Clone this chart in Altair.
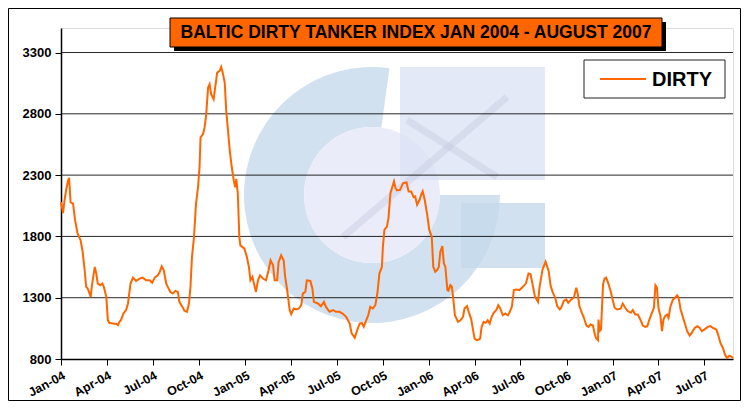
import altair as alt
import pandas as pd

# ---------------- data ----------------
# observation day, counted from 1 Jan 2004
day_offset = [
    0, 4, 7, 10, 14, 16, 19, 24, 28, 33, 39, 43, 47, 50, 53, 59, 61, 67, 70, 73, 78, 82, 85, 90,
    93, 96, 103, 110, 113, 116, 119, 124, 129, 133, 138, 143, 149, 156, 162, 169, 176, 181, 186,
    192, 196, 200, 204, 209, 212, 217, 222, 227, 232, 235, 241, 245, 250, 254, 257, 260, 264, 268,
    272, 275, 277, 282, 285, 288, 292, 295, 298, 303,
    310, 315, 318, 321, 325, 328, 331, 335, 339, 343, 346, 348, 351, 354, 356, 364, 369, 373, 376,
    380, 383, 387, 391, 395, 401, 407, 412, 416, 421, 424, 429, 432, 437, 442, 445, 449, 454, 457,
    462, 467, 472, 477, 480, 485, 488, 495, 499, 502, 510, 516, 522, 526, 533, 540, 546, 553, 559,
    566, 573, 577, 583, 588, 593, 597, 601, 606, 610, 614, 619, 624, 628, 632, 637,
    639, 642, 647, 650, 654, 657, 661, 664, 667, 673, 679, 686, 690, 695, 700, 703, 707, 712, 715,
    718, 722, 727, 731, 736, 739, 743, 747, 750, 753, 757, 760, 763, 767, 769, 773, 776, 779, 782,
    788, 793, 798, 801, 806, 810, 814, 818, 821, 826, 832, 835, 839, 843, 847, 851, 855, 859, 864,
    868, 872, 877, 882, 887, 890, 895, 899, 904, 910, 917, 923, 928, 932, 937, 941, 947, 950, 956, 962,
    968, 972, 976, 981, 985, 990, 993, 998, 1003, 1007, 1013, 1018, 1023, 1026, 1029, 1034, 1038,
    1043, 1047, 1051, 1056, 1059, 1062, 1066, 1067, 1069, 1072, 1076, 1079, 1082, 1086, 1091, 1095,
    1099, 1104, 1111, 1115, 1120, 1125, 1131, 1135, 1140, 1145, 1150, 1155, 1160, 1164, 1168, 1173,
    1177, 1180, 1183, 1186, 1190, 1193, 1196, 1199, 1203, 1206, 1210, 1215, 1219, 1223, 1226, 1230,
    1234, 1238, 1243, 1248, 1252, 1258, 1263, 1268, 1272, 1277, 1284, 1289, 1294, 1301, 1305, 1309,
    1314, 1318, 1322, 1327, 1330, 1334,
]
dirty_index = [
    2080, 1990, 2093, 2174, 2255, 2277, 2079, 2066, 1930, 1822, 1767, 1673, 1524, 1388, 1375, 1307,
    1388, 1551, 1497, 1415, 1402, 1415, 1388, 1307, 1117, 1095, 1090, 1085, 1076, 1104, 1117, 1171,
    1198, 1253, 1415, 1464, 1437, 1456, 1464, 1442, 1442, 1421, 1464, 1483, 1510, 1556, 1524, 1415,
    1388, 1347, 1334, 1356, 1347, 1266, 1225, 1193, 1185, 1253, 1388, 1632, 1795, 2066, 2201, 2364,
    2608, 2635, 2689, 2784, 3014, 3041, 2960, 2919,
    3136, 3150, 3182, 3136, 3055, 2824, 2689, 2499, 2364, 2255, 2201, 2269, 2147, 1795, 1727, 1700,
    1632, 1551, 1442, 1469, 1415, 1347, 1442, 1483, 1456, 1442, 1524, 1605, 1564, 1442, 1442, 1591,
    1646, 1605, 1469, 1361, 1198, 1166, 1212, 1204, 1212, 1239, 1334, 1347, 1442, 1437, 1375, 1266,
    1253, 1231, 1266, 1225, 1185, 1198, 1185, 1185, 1171, 1144, 1090, 1009, 973, 1036, 1090, 1095,
    1063, 1117, 1158, 1225, 1212, 1239, 1334, 1497, 1551,
    1717, 1853, 1880, 1949, 2153, 2194, 2249, 2194, 2175, 2180, 2235, 2240, 2167, 2167, 2120, 2126,
    2058, 2099, 2140, 2167, 2099, 1976, 1853, 1798, 1553, 1512, 1526, 1553, 1676, 1722, 1580, 1553,
    1362, 1357, 1403, 1389, 1280, 1157, 1103, 1116, 1144, 1212, 1231, 1176, 1130, 1035, 966, 953,
    966, 1062, 1103, 1095, 1116, 1089, 1144, 1176, 1198, 1239, 1212, 1157, 1171, 1157, 1176, 1226,
    1362, 1367, 1362, 1389, 1417, 1498, 1493, 1389, 1307, 1266, 1389, 1531, 1594,
    1518, 1396, 1346, 1300, 1232, 1204, 1218, 1273, 1286, 1259, 1286, 1300, 1382, 1327, 1232, 1177,
    1136, 1073, 1062, 1081, 1073, 1013, 972, 953, 1122, 1027, 1040, 1409, 1456, 1464, 1423, 1355,
    1286, 1218, 1204, 1210, 1253, 1218, 1191, 1177, 1199, 1163, 1163, 1122, 1073, 1062, 1068, 1122,
    1177, 1218, 1401, 1382, 1218, 1150, 1027, 1122, 1150, 1163, 1136, 1232, 1286, 1300, 1319, 1300,
    1204, 1150, 1095, 1027, 991, 1013, 1054, 1068, 1054, 1027, 1040, 1062, 1068, 1054, 1040, 991,
    931, 890, 836, 808, 827, 822, 808,
]
series_name = "DIRTY"
title_text = "BALTIC DIRTY TANKER INDEX JAN 2004 - AUGUST 2007"
quarter_ticks = [(2004, 1), (2004, 4), (2004, 7), (2004, 10), (2005, 1), (2005, 4), (2005, 7),
                 (2005, 10), (2006, 1), (2006, 4), (2006, 7), (2006, 10), (2007, 1), (2007, 4),
                 (2007, 7)]
y_ticks = [800, 1300, 1800, 2300, 2800, 3300]
y_domain = [800, 3500]
x_domain = [(2004, 1, 1), (2007, 8, 27)]

# ---------------- build ----------------
start = pd.Timestamp("2004-01-01")
df = pd.DataFrame({
    "date": start + pd.to_timedelta(day_offset, unit="D"),
    "value": dirty_index,
    "series": series_name,
})
grid_df = pd.DataFrame({"tick": y_ticks[1:]})
one = pd.DataFrame({"k": [0]})

FONT = "Liberation Sans"
W, H = 672, 331
ORANGE = "#FF6600"

x_scale = alt.Scale(domain=[alt.DateTime(year=y, month=m, date=d) for (y, m, d) in x_domain])
x_axis = alt.Axis(
    values=[alt.DateTime(year=y, month=m, date=1) for (y, m) in quarter_ticks],
    format="%b-%y", labelAngle=-28, labelAlign="right", labelBaseline="top",
    labelFont=FONT, labelFontWeight="bold", labelFontSize=12.5, labelColor="black",
    labelPadding=4, labelOverlap=False, labelFlush=False, labelBound=False,
    tickColor="black", tickSize=6, domainColor="black", domainWidth=1.5,
    grid=False, title=None,
)
y_scale = alt.Scale(domain=y_domain, nice=False, zero=False)
y_axis = alt.Axis(
    values=y_ticks, format="d", labelFont=FONT, labelFontWeight="bold", labelFontSize=13,
    labelColor="black", labelPadding=4, tickColor="black", tickSize=6,
    domainColor="black", domainWidth=1.5, grid=False, title=None,
)

base_one = alt.Chart(one)

# watermark logo (faint)
cx, cy = 311, 167
RING = "#C6DAEC"
ring = base_one.mark_arc(color=RING, opacity=0.8).encode(
    x=alt.value(cx), y=alt.value(cy), theta=alt.value(1.57), theta2=alt.value(6.42),
    radius=alt.value(128), radius2=alt.value(68))
inner = base_one.mark_arc(color="#EAECFA").encode(
    x=alt.value(cx), y=alt.value(cy), theta=alt.value(0), theta2=alt.value(6.2832),
    radius=alt.value(68))
block_tr = base_one.mark_rect(color="#DCE4F5", opacity=0.8).encode(
    x=alt.value(339), x2=alt.value(484), y=alt.value(39), y2=alt.value(152))
block_br = base_one.mark_rect(color=RING, opacity=0.8).encode(
    x=alt.value(400), x2=alt.value(484), y=alt.value(175), y2=alt.value(240))
diag1 = base_one.mark_rule(color="#C3C8DC", strokeWidth=7, opacity=0.4).encode(
    x=alt.value(446), y=alt.value(69), x2=alt.value(282), y2=alt.value(209))
diag2 = base_one.mark_rule(color="#C3C8DC", strokeWidth=7, opacity=0.4).encode(
    x=alt.value(346), y=alt.value(92), x2=alt.value(436), y2=alt.value(149))

grid = alt.Chart(grid_df).mark_rule(color="black", strokeWidth=1, opacity=0.85).encode(
    y=alt.Y("tick:Q", scale=y_scale, axis=y_axis))

line = alt.Chart(df).mark_line(color=ORANGE, strokeWidth=2).encode(
    x=alt.X("date:T", scale=x_scale, axis=x_axis),
    y=alt.Y("value:Q", scale=y_scale, axis=y_axis),
)

# title box
shadow = base_one.mark_rect(color="black").encode(
    x=alt.value(113), x2=alt.value(605), y=alt.value(-6), y2=alt.value(23))
tbox = base_one.mark_rect(color=ORANGE, stroke="black", strokeWidth=1).encode(
    x=alt.value(109), x2=alt.value(601), y=alt.value(-10), y2=alt.value(19))
ttext = base_one.mark_text(text=title_text, font=FONT, fontWeight="bold", fontSize=17.5,
                           color="black", align="center", baseline="middle").encode(
    x=alt.value(355), y=alt.value(5))

# legend box
lbox = base_one.mark_rect(fill="white", stroke="#222222", strokeWidth=1).encode(
    x=alt.value(523), x2=alt.value(664), y=alt.value(32), y2=alt.value(70))
lline = base_one.mark_rule(color=ORANGE, strokeWidth=2).encode(
    x=alt.value(539), x2=alt.value(585), y=alt.value(51))
ltext = base_one.mark_text(text=series_name, font=FONT, fontWeight="bold", fontSize=20,
                           color="black", align="left", baseline="middle").encode(
    x=alt.value(591), y=alt.value(52))

# outer frame
frame = base_one.mark_rect(filled=False, stroke="black", strokeWidth=1).encode(
    x=alt.value(-52.5), x2=alt.value(679.5), y=alt.value(-19.5), y2=alt.value(372.5))

chart = alt.layer(
    ring, inner, block_tr, block_br, diag1, diag2, grid, line, shadow, tbox, ttext,
    lbox, lline, ltext, frame
).properties(
    width=W, height=H, autosize="none",
    padding={"left": 53, "top": 20, "right": 12, "bottom": 43},
).configure_view(
    fill="#E6E6FA", stroke="#8C8C8C", strokeWidth=2,
).configure(background="white")

chart.save("out.html", embed_options={"renderer": "svg", "actions": False})
